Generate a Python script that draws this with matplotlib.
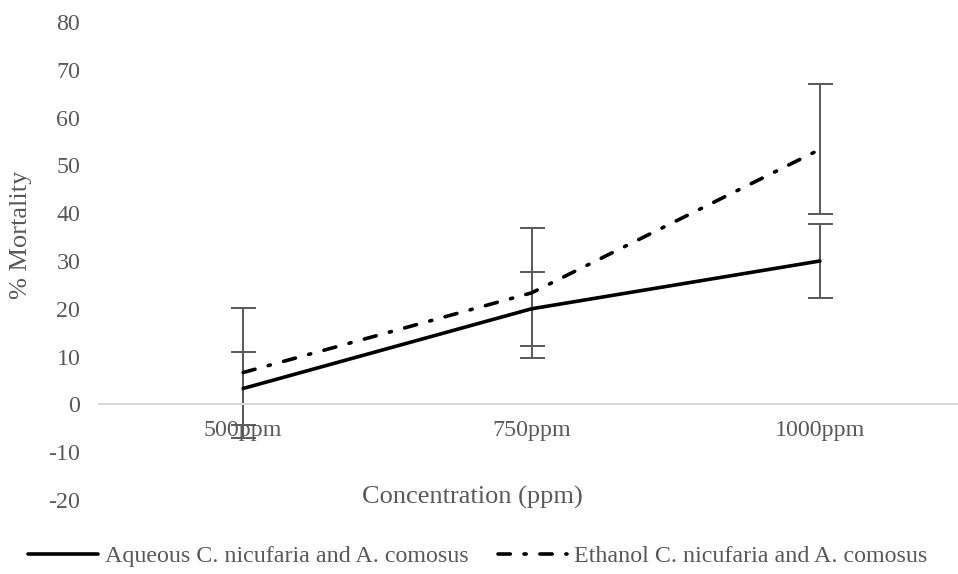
import numpy as np
import matplotlib.pyplot as plt

# Data
concentrations = ['500ppm', '750ppm', '1000ppm']
aqueous = [3.33, 20.0, 30.0]
aqueous_err = [7.7, 7.7, 7.7]
ethanol = [6.67, 23.33, 53.33]
ethanol_err = [13.6, 13.6, 13.6]
labels = ['Aqueous C. nicufaria and A. comosus', 'Ethanol C. nicufaria and A. comosus']

plt.rcParams['font.family'] = ['Liberation Serif', 'DejaVu Serif']
plt.rcParams['axes.unicode_minus'] = False
grey = '#595959'

fig = plt.figure(figsize=(9.58, 5.74), dpi=100)
# plot area runs a bit past the right edge, as in the original crop
ax = fig.add_axes([99/958, 74/574, 865/958, 478/574])

x = np.arange(len(concentrations))

ax.errorbar(x, aqueous, yerr=aqueous_err, fmt='none', ecolor=grey, elinewidth=1.4,
            capsize=9, capthick=1.4, zorder=2)
ax.errorbar(x, ethanol, yerr=ethanol_err, fmt='none', ecolor=grey, elinewidth=1.4,
            capsize=9, capthick=1.4, zorder=2)
l1, = ax.plot(x, aqueous, color='black', lw=2.6, solid_capstyle='round', zorder=3)
l2, = ax.plot(x, ethanol, color='black', lw=2.6, linestyle=(0, (3.4, 3.8, 0.6, 3.8)),
              dash_capstyle='round', zorder=3)

ax.set_xlim(-0.5, 2.5)
ax.set_ylim(-20, 80)
ax.set_yticks(np.arange(-20, 81, 10))
ax.set_xticks(x)
ax.set_xticklabels(concentrations)

for s in ['top', 'right', 'left']:
    ax.spines[s].set_visible(False)
ax.spines['bottom'].set_position(('data', 0))
ax.spines['bottom'].set_color('#d9d9d9')
ax.spines['bottom'].set_linewidth(1.5)

ax.tick_params(axis='y', length=0, pad=13.5, labelsize=17.3, labelcolor=grey)
ax.tick_params(axis='x', length=0, pad=11, labelsize=17.3, labelcolor=grey)

fig.text(472/958, 1 - 497/574, 'Concentration (ppm)', ha='center', va='center',
         fontsize=19, color=grey)
fig.text(21/958, 1 - 235/574, '% Mortality', ha='center', va='center', rotation=90,
         fontsize=19, color=grey)

fig.legend([l1, l2], labels, loc='center', bbox_to_anchor=(478/958, 1 - 556/574),
           ncol=2, frameon=False, fontsize=17.3, handlelength=2.9, handletextpad=0.3,
           columnspacing=1.2, borderpad=0, labelcolor=grey)

fig.savefig('out.png', dpi=100)
